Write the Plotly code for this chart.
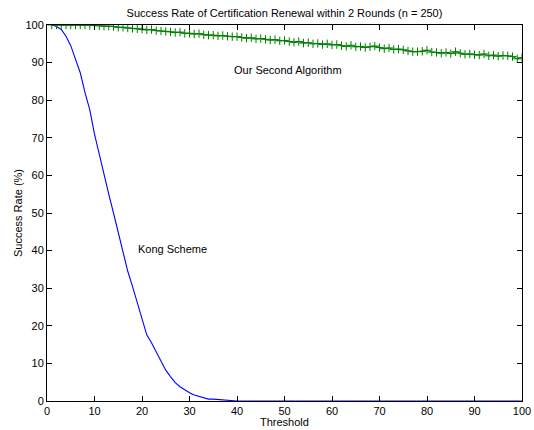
import plotly.graph_objects as go

thresholds = list(range(1, 101))

kong_scheme = [100, 99.6, 98.8, 97, 94.5, 91, 87.3, 82, 77.5, 71,
               65.5, 60.5, 55, 50, 45, 39.5, 34.5, 30.5, 26, 21.5,
               17.6, 15.5, 13.2, 10.5, 8.2, 6.5, 4.9, 3.8, 2.9, 2.2,
               1.6, 1.2, 0.8, 0.5, 0.5, 0.4, 0.2, 0.1, 0, 0] + [0] * 60

second_algorithm = [100, 100, 100, 100, 100, 100, 100, 100, 99.9, 99.9,
                    99.8, 99.7, 99.7, 99.6, 99.4, 99.4, 99.2, 99.1, 99.0, 98.9,
                    98.7, 98.8, 98.5, 98.4, 98.3, 98.2, 98.0, 98.1, 97.8, 97.8,
                    97.6, 97.7, 97.4, 97.3, 97.3, 97.1, 97.2, 97.0, 96.9, 96.9,
                    96.7, 96.5, 96.6, 96.3, 96.4, 96.2, 96.0, 96.1, 95.8, 95.9,
                    95.6, 95.4, 95.6, 95.2, 95.3, 95.0, 95.1, 94.8, 95.0, 94.7,
                    94.8, 94.5, 94.3, 94.6, 94.2, 94.3, 94.0, 94.2, 94.4, 94.0,
                    93.7, 93.9, 93.5, 93.6, 93.4, 93.1, 92.9, 92.9, 93.0, 93.3,
                    92.8, 92.7, 92.5, 92.7, 92.4, 92.9, 92.5, 92.2, 92.3, 92.1,
                    92.0, 92.3, 91.8, 92.0, 91.7, 91.9, 91.8, 91.6, 91.0, 91.3]

tick_vals = list(range(0, 101, 10))

FONT = "Liberation Sans, Arial, Helvetica, sans-serif"

fig = go.Figure()
fig.add_trace(go.Scatter(
    x=thresholds, y=kong_scheme, mode="lines",
    line=dict(color="#0000ff", width=1.1), name="Kong Scheme",
))
fig.add_trace(go.Scatter(
    x=thresholds, y=second_algorithm, mode="lines+markers",
    line=dict(color="#008000", width=1),
    marker=dict(symbol="cross-thin", size=6, line=dict(color="#008000", width=1)),
    name="Our Second Algorithm",
))

axis_common = dict(
    range=[0, 100], tickvals=tick_vals, ticks="inside", ticklen=5,
    tickcolor="black", showline=True, linecolor="black", linewidth=1,
    mirror="ticks", showgrid=False, zeroline=False, automargin=False,
    tickfont=dict(family=FONT, size=11, color="black"),
)

fig.update_layout(
    width=534, height=430,
    margin=dict(l=47, r=12, t=25, b=29),
    paper_bgcolor="white", plot_bgcolor="white",
    showlegend=False,
    font=dict(family=FONT, size=11, color="black"),
    xaxis=axis_common,
    yaxis=axis_common,
    title=dict(text="Success Rate of Certification Renewal within 2 Rounds (n = 250)",
               x=0.5328, xanchor="center", y=(430 - 13) / 430, yanchor="middle",
               yref="container", font=dict(family=FONT, size=11, color="black"),
               automargin=False),
    annotations=[
        dict(text="Threshold", x=0.5, y=-0.056, xref="paper", yref="paper",
             showarrow=False, xanchor="center", yanchor="middle",
             font=dict(family=FONT, size=11)),
        dict(text="Success Rate (%)", x=-0.061, y=0.5, xref="paper", yref="paper",
             showarrow=False, textangle=-90, xanchor="center", yanchor="middle",
             font=dict(family=FONT, size=11)),
        dict(text="Our Second Algorithm", x=39, y=88, xref="x", yref="y",
             showarrow=False, xanchor="left", yanchor="middle",
             font=dict(family=FONT, size=11)),
        dict(text="Kong Scheme", x=18.8, y=40.5, xref="x", yref="y",
             showarrow=False, xanchor="left", yanchor="middle",
             font=dict(family=FONT, size=11)),
    ],
)

fig.write_html("out.html")
